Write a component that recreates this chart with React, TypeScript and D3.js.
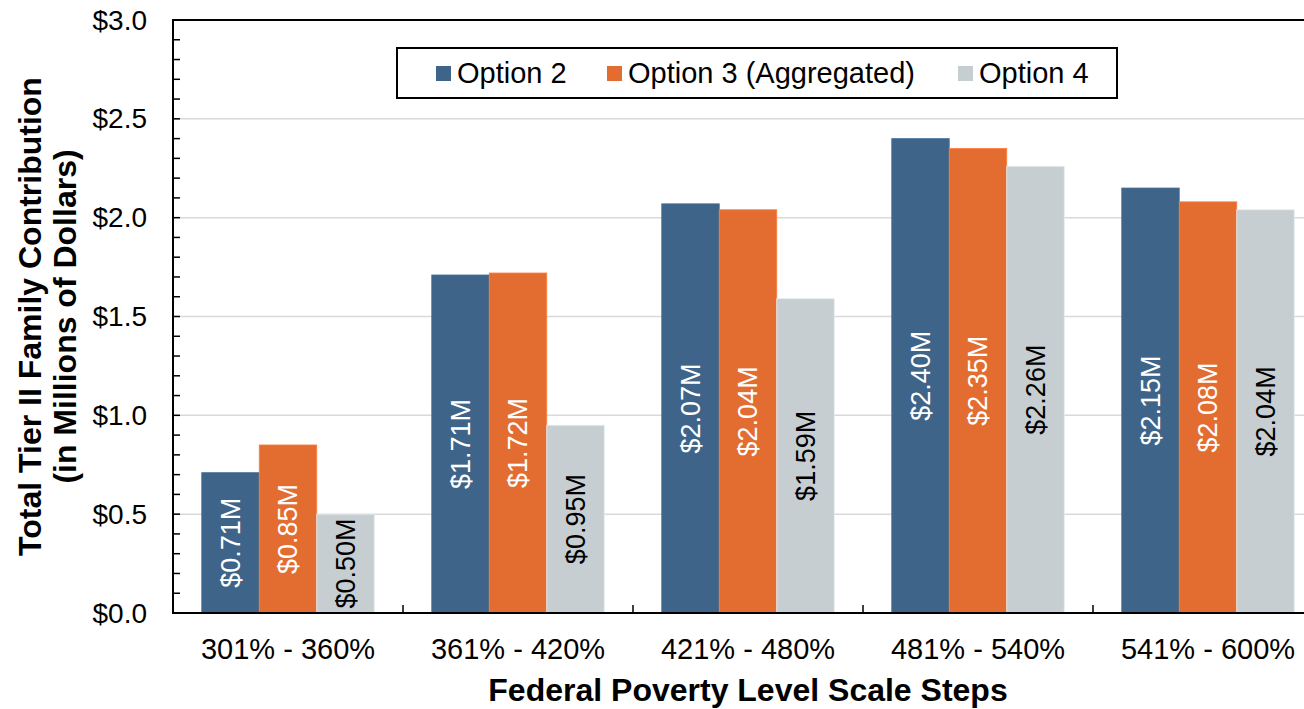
import React, { useRef, useEffect } from 'react';
import * as d3 from 'd3';

const categories = ['301% - 360%', '361% - 420%', '421% - 480%', '481% - 540%', '541% - 600%'];
const seriesNames = ['Option 2', 'Option 3 (Aggregated)', 'Option 4'];
const option2 = [0.71, 1.71, 2.07, 2.40, 2.15];
const option3 = [0.85, 1.72, 2.04, 2.35, 2.08];
const option4 = [0.50, 0.95, 1.59, 2.26, 2.04];
const yTicks = [0, 0.5, 1.0, 1.5, 2.0, 2.5, 3.0];

const colors = ['#3e6489', '#e36c31', '#c6ced2'];
const labelColors = ['#ffffff', '#ffffff', '#000000'];
const FONT = 'Liberation Sans, Arial, sans-serif';

const App: React.FC = () => {
  const svgRef = useRef<SVGSVGElement>(null);

  useEffect(() => {
    if (!svgRef.current) return;
    const svg = d3.select(svgRef.current);
    svg.selectAll('*').remove();

    const left = 173;
    const top = 20;
    const bottom = 613;
    const right = 1323; // plot runs past the visible edge

    const series = [option2, option3, option4];

    const y = d3.scaleLinear().domain([0, 3]).range([bottom, top]);
    const x0 = d3.scaleBand().domain(categories).range([left, right]);
    // 3 bars take 75% of each group
    const x1 = d3.scaleBand()
      .domain(seriesNames)
      .range([x0.bandwidth() * 0.125, x0.bandwidth() * 0.875]);

    // gridlines
    svg.append('g')
      .selectAll('line')
      .data(yTicks.filter(t => t > 0 && t < 3))
      .join('line')
      .attr('x1', left)
      .attr('x2', right)
      .attr('y1', d => y(d))
      .attr('y2', d => y(d))
      .attr('stroke', '#d9d9d9')
      .attr('stroke-width', 1.5);

    // bars
    seriesNames.forEach((name, si) => {
      const g = svg.append('g');
      g.selectAll('rect')
        .data(series[si])
        .join('rect')
        .attr('x', (_, i) => (x0(categories[i]) || 0) + (x1(name) || 0))
        .attr('y', d => y(d))
        .attr('width', x1.bandwidth())
        .attr('height', d => bottom - y(d))
        .attr('fill', colors[si])
        .attr('stroke', d3.color(colors[si])!.brighter(0.4).toString())
        .attr('stroke-width', 0.8);

      g.selectAll('text')
        .data(series[si])
        .join('text')
        .attr('transform', (d, i) => {
          const cx = (x0(categories[i]) || 0) + (x1(name) || 0) + x1.bandwidth() / 2;
          const cy = (y(d) + bottom) / 2;
          return `translate(${cx},${cy}) rotate(-90)`;
        })
        .attr('text-anchor', 'middle')
        .attr('dominant-baseline', 'central')
        .attr('font-family', FONT)
        .attr('font-size', 27)
        .attr('fill', labelColors[si])
        .text(d => `$${d.toFixed(2)}M`);
    });

    // y axis
    svg.append('line')
      .attr('x1', left).attr('x2', left)
      .attr('y1', top).attr('y2', bottom)
      .attr('stroke', '#000').attr('stroke-width', 2);
    // top border
    svg.append('line')
      .attr('x1', left - 1).attr('x2', right)
      .attr('y1', top).attr('y2', top)
      .attr('stroke', '#000').attr('stroke-width', 2);

    // minor ticks every 0.1
    const minor = d3.range(1, 30).map(i => i / 10);
    svg.append('g')
      .selectAll('line')
      .data(minor)
      .join('line')
      .attr('x1', left)
      .attr('x2', left + 7)
      .attr('y1', d => y(d))
      .attr('y2', d => y(d))
      .attr('stroke', '#000')
      .attr('stroke-width', 1.5);

    // y tick labels
    svg.append('g')
      .selectAll('text')
      .data(yTicks)
      .join('text')
      .attr('x', 147)
      .attr('y', d => y(d))
      .attr('text-anchor', 'end')
      .attr('dominant-baseline', 'central')
      .attr('font-family', FONT)
      .attr('font-size', 28)
      .attr('fill', '#000')
      .text(d => `$${d.toFixed(1)}`);

    // x axis
    svg.append('line')
      .attr('x1', left - 1).attr('x2', right)
      .attr('y1', bottom).attr('y2', bottom)
      .attr('stroke', '#000').attr('stroke-width', 2);

    svg.append('g')
      .selectAll('line')
      .data(categories.slice(1))
      .join('line')
      .attr('x1', d => x0(d) || 0)
      .attr('x2', d => x0(d) || 0)
      .attr('y1', bottom)
      .attr('y2', bottom - 8)
      .attr('stroke', '#000')
      .attr('stroke-width', 1.5);

    svg.append('g')
      .selectAll('text')
      .data(categories)
      .join('text')
      .attr('x', d => (x0(d) || 0) + x0.bandwidth() / 2)
      .attr('y', 659)
      .attr('text-anchor', 'middle')
      .attr('font-family', FONT)
      .attr('font-size', 29)
      .attr('fill', '#000')
      .text(d => d);

    // axis titles
    svg.append('text')
      .attr('x', (left + right) / 2)
      .attr('y', 701)
      .attr('text-anchor', 'middle')
      .attr('font-family', FONT)
      .attr('font-size', 32)
      .attr('font-weight', 'bold')
      .attr('fill', '#000')
      .text('Federal Poverty Level Scale Steps');

    const yTitle = svg.append('text')
      .attr('transform', `translate(0,${(top + bottom) / 2}) rotate(-90)`)
      .attr('text-anchor', 'middle')
      .attr('font-family', FONT)
      .attr('font-size', 32)
      .attr('font-weight', 'bold')
      .attr('fill', '#000');
    yTitle.append('tspan').attr('x', 0).attr('y', 41).text('Total Tier II Family Contribution');
    yTitle.append('tspan').attr('x', 0).attr('y', 76).text('(in Millions of Dollars)');

    // legend
    const legend = svg.append('g');
    legend.append('rect')
      .attr('x', 397).attr('y', 48)
      .attr('width', 720).attr('height', 50)
      .attr('fill', '#fff')
      .attr('stroke', '#000')
      .attr('stroke-width', 2);
    const legendX = [436, 607, 958];
    seriesNames.forEach((name, i) => {
      legend.append('rect')
        .attr('x', legendX[i]).attr('y', 66)
        .attr('width', 15).attr('height', 15)
        .attr('fill', colors[i]);
      legend.append('text')
        .attr('x', legendX[i] + 21)
        .attr('y', 83)
        .attr('font-family', FONT)
        .attr('font-size', 29)
        .attr('fill', '#000')
        .text(name);
    });
  }, []);

  return (
    <svg
      ref={svgRef}
      width={1304}
      height={709}
      style={{ position: 'absolute', left: 0, top: 0, display: 'block', background: '#fff' }}
    />
  );
};

export default App;
